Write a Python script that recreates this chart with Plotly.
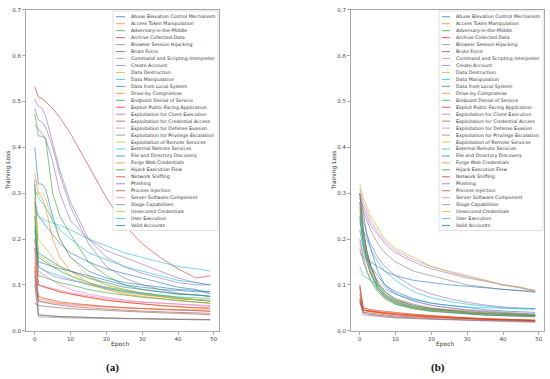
import plotly.graph_objects as go

# ---------------- data ----------------
techniques = [
    "Abuse Elevation Control Mechanism", "Access Token Manipulation", "Adversary-in-the-Middle",
    "Archive Collected Data", "Browser Session Hijacking", "Brute Force",
    "Command and Scripting Interpreter", "Create Account", "Data Destruction", "Data Manipulation",
    "Data from Local System", "Drive-by Compromise", "Endpoint Denial of Service",
    "Exploit Public-Facing Application", "Exploitation for Client Execution",
    "Exploitation for Credential Access", "Exploitation for Defense Evasion",
    "Exploitation for Privilege Escalation", "Exploitation of Remote Services",
    "External Remote Services", "File and Directory Discovery", "Forge Web Credentials",
    "Hijack Execution Flow", "Network Sniffing", "Phishing", "Process Injection",
    "Server Software Component", "Stage Capabilities", "Unsecured Credentials",
    "User Execution", "Valid Accounts",
]

epochs = [0, 1, 2, 3, 5, 7, 10, 15, 20, 25, 30, 35, 40, 45, 49]

loss_a = [
    [0.40, 0.32, 0.32, 0.31, 0.25, 0.20, 0.16, 0.13, 0.115, 0.105, 0.10, 0.095, 0.09, 0.088, 0.085],
    [0.345, 0.30, 0.29, 0.27, 0.20, 0.16, 0.13, 0.105, 0.09, 0.08, 0.075, 0.07, 0.065, 0.062, 0.06],
    [0.473, 0.425, 0.424, 0.42, 0.30, 0.25, 0.21, 0.15, 0.12, 0.10, 0.09, 0.085, 0.08, 0.078, 0.075],
    [0.532, 0.51, 0.507, 0.50, 0.485, 0.465, 0.43, 0.36, 0.29, 0.23, 0.19, 0.16, 0.135, 0.115, 0.12],
    [0.505, 0.49, 0.485, 0.47, 0.41, 0.35, 0.28, 0.20, 0.16, 0.14, 0.125, 0.115, 0.105, 0.10, 0.10],
    [0.06, 0.055, 0.054, 0.053, 0.052, 0.05, 0.048, 0.046, 0.044, 0.042, 0.04, 0.039, 0.038, 0.036, 0.035],
    [0.11, 0.065, 0.063, 0.062, 0.06, 0.058, 0.056, 0.054, 0.052, 0.05, 0.048, 0.046, 0.045, 0.044, 0.043],
    [0.485, 0.46, 0.455, 0.445, 0.40, 0.34, 0.27, 0.19, 0.14, 0.115, 0.10, 0.09, 0.082, 0.078, 0.075],
    [0.30, 0.30, 0.30, 0.29, 0.24, 0.20, 0.16, 0.12, 0.10, 0.09, 0.08, 0.075, 0.07, 0.068, 0.065],
    [0.26, 0.25, 0.245, 0.24, 0.235, 0.23, 0.22, 0.20, 0.185, 0.17, 0.16, 0.15, 0.14, 0.135, 0.13],
    [0.18, 0.17, 0.165, 0.16, 0.15, 0.14, 0.13, 0.115, 0.105, 0.095, 0.09, 0.085, 0.08, 0.078, 0.075],
    [0.20, 0.10, 0.098, 0.095, 0.09, 0.085, 0.08, 0.072, 0.066, 0.062, 0.058, 0.055, 0.052, 0.05, 0.048],
    [0.32, 0.16, 0.155, 0.15, 0.14, 0.13, 0.12, 0.105, 0.095, 0.088, 0.082, 0.077, 0.072, 0.068, 0.065],
    [0.14, 0.075, 0.072, 0.07, 0.066, 0.063, 0.06, 0.056, 0.053, 0.05, 0.048, 0.046, 0.045, 0.044, 0.042],
    [0.20, 0.14, 0.135, 0.13, 0.12, 0.115, 0.11, 0.10, 0.092, 0.085, 0.08, 0.075, 0.07, 0.067, 0.065],
    [0.10, 0.035, 0.034, 0.033, 0.032, 0.031, 0.03, 0.029, 0.028, 0.027, 0.026, 0.026, 0.025, 0.025, 0.024],
    [0.27, 0.13, 0.125, 0.12, 0.11, 0.10, 0.09, 0.08, 0.073, 0.067, 0.063, 0.06, 0.057, 0.055, 0.053],
    [0.33, 0.03, 0.03, 0.03, 0.029, 0.029, 0.028, 0.027, 0.027, 0.026, 0.026, 0.025, 0.025, 0.024, 0.024],
    [0.28, 0.165, 0.16, 0.155, 0.145, 0.14, 0.13, 0.115, 0.10, 0.09, 0.083, 0.077, 0.072, 0.068, 0.065],
    [0.23, 0.14, 0.135, 0.13, 0.125, 0.12, 0.112, 0.10, 0.092, 0.086, 0.082, 0.078, 0.074, 0.072, 0.07],
    [0.22, 0.15, 0.148, 0.145, 0.14, 0.135, 0.13, 0.12, 0.11, 0.10, 0.095, 0.09, 0.088, 0.085, 0.085],
    [0.15, 0.07, 0.068, 0.066, 0.063, 0.06, 0.058, 0.055, 0.052, 0.05, 0.048, 0.047, 0.046, 0.045, 0.045],
    [0.25, 0.12, 0.118, 0.115, 0.11, 0.105, 0.10, 0.09, 0.083, 0.078, 0.073, 0.07, 0.066, 0.063, 0.06],
    [0.18, 0.10, 0.097, 0.094, 0.09, 0.085, 0.08, 0.073, 0.067, 0.062, 0.058, 0.055, 0.053, 0.05, 0.05],
    [0.45, 0.44, 0.43, 0.42, 0.37, 0.30, 0.24, 0.20, 0.175, 0.16, 0.145, 0.13, 0.115, 0.105, 0.10],
    [0.13, 0.065, 0.063, 0.061, 0.058, 0.056, 0.053, 0.05, 0.047, 0.045, 0.043, 0.041, 0.04, 0.039, 0.038],
    [0.16, 0.10, 0.098, 0.096, 0.092, 0.088, 0.083, 0.076, 0.07, 0.065, 0.062, 0.06, 0.058, 0.056, 0.055],
    [0.12, 0.035, 0.034, 0.033, 0.032, 0.031, 0.03, 0.029, 0.028, 0.027, 0.026, 0.026, 0.025, 0.024, 0.024],
    [0.29, 0.20, 0.19, 0.18, 0.16, 0.14, 0.12, 0.10, 0.09, 0.083, 0.078, 0.074, 0.07, 0.068, 0.066],
    [0.31, 0.29, 0.28, 0.27, 0.24, 0.22, 0.20, 0.17, 0.155, 0.14, 0.13, 0.12, 0.11, 0.105, 0.10],
    [0.28, 0.25, 0.24, 0.23, 0.21, 0.19, 0.17, 0.15, 0.135, 0.125, 0.115, 0.105, 0.095, 0.09, 0.08],
]

loss_b = [
    [0.30, 0.25, 0.21, 0.18, 0.13, 0.10, 0.08, 0.065, 0.055, 0.05, 0.045, 0.042, 0.04, 0.038, 0.036],
    [0.065, 0.045, 0.043, 0.042, 0.04, 0.038, 0.036, 0.033, 0.031, 0.029, 0.027, 0.026, 0.025, 0.024, 0.023],
    [0.27, 0.20, 0.16, 0.13, 0.095, 0.075, 0.06, 0.05, 0.045, 0.042, 0.04, 0.038, 0.036, 0.035, 0.034],
    [0.06, 0.045, 0.044, 0.043, 0.041, 0.039, 0.037, 0.034, 0.031, 0.029, 0.027, 0.025, 0.023, 0.021, 0.02],
    [0.30, 0.27, 0.25, 0.23, 0.21, 0.19, 0.17, 0.15, 0.135, 0.125, 0.115, 0.108, 0.10, 0.095, 0.085],
    [0.08, 0.04, 0.039, 0.038, 0.036, 0.034, 0.032, 0.03, 0.028, 0.027, 0.026, 0.025, 0.024, 0.023, 0.022],
    [0.07, 0.04, 0.038, 0.036, 0.034, 0.032, 0.03, 0.028, 0.026, 0.024, 0.022, 0.021, 0.02, 0.019, 0.018],
    [0.29, 0.26, 0.24, 0.22, 0.19, 0.17, 0.15, 0.13, 0.12, 0.11, 0.10, 0.095, 0.09, 0.088, 0.086],
    [0.30, 0.22, 0.17, 0.14, 0.10, 0.08, 0.065, 0.052, 0.046, 0.042, 0.039, 0.037, 0.035, 0.034, 0.033],
    [0.20, 0.16, 0.13, 0.11, 0.085, 0.07, 0.058, 0.048, 0.043, 0.04, 0.037, 0.035, 0.034, 0.033, 0.032],
    [0.17, 0.16, 0.155, 0.15, 0.14, 0.13, 0.12, 0.11, 0.105, 0.10, 0.097, 0.094, 0.09, 0.087, 0.084],
    [0.09, 0.05, 0.047, 0.045, 0.042, 0.04, 0.038, 0.035, 0.032, 0.03, 0.028, 0.026, 0.025, 0.024, 0.023],
    [0.28, 0.21, 0.17, 0.14, 0.10, 0.08, 0.066, 0.055, 0.048, 0.044, 0.041, 0.039, 0.037, 0.036, 0.035],
    [0.10, 0.05, 0.048, 0.046, 0.044, 0.042, 0.04, 0.036, 0.033, 0.03, 0.028, 0.026, 0.025, 0.024, 0.023],
    [0.18, 0.15, 0.13, 0.11, 0.09, 0.075, 0.062, 0.05, 0.044, 0.04, 0.037, 0.034, 0.032, 0.031, 0.03],
    [0.065, 0.035, 0.034, 0.033, 0.031, 0.03, 0.028, 0.026, 0.025, 0.024, 0.023, 0.022, 0.021, 0.02, 0.02],
    [0.31, 0.28, 0.26, 0.24, 0.215, 0.195, 0.175, 0.155, 0.14, 0.13, 0.12, 0.11, 0.10, 0.093, 0.088],
    [0.26, 0.21, 0.17, 0.14, 0.105, 0.085, 0.07, 0.058, 0.05, 0.046, 0.043, 0.04, 0.038, 0.036, 0.035],
    [0.32, 0.29, 0.27, 0.25, 0.225, 0.20, 0.18, 0.16, 0.14, 0.128, 0.118, 0.11, 0.10, 0.094, 0.088],
    [0.25, 0.22, 0.20, 0.18, 0.15, 0.13, 0.11, 0.085, 0.072, 0.064, 0.058, 0.054, 0.05, 0.048, 0.047],
    [0.22, 0.18, 0.15, 0.125, 0.095, 0.077, 0.063, 0.052, 0.046, 0.042, 0.039, 0.037, 0.035, 0.034, 0.033],
    [0.10, 0.045, 0.043, 0.041, 0.039, 0.037, 0.035, 0.032, 0.03, 0.028, 0.026, 0.025, 0.024, 0.023, 0.022],
    [0.25, 0.19, 0.15, 0.125, 0.09, 0.072, 0.058, 0.048, 0.042, 0.039, 0.036, 0.034, 0.033, 0.032, 0.031],
    [0.07, 0.045, 0.043, 0.042, 0.04, 0.038, 0.035, 0.032, 0.03, 0.028, 0.026, 0.025, 0.024, 0.023, 0.022],
    [0.28, 0.24, 0.21, 0.19, 0.16, 0.14, 0.12, 0.095, 0.08, 0.07, 0.062, 0.056, 0.052, 0.05, 0.048],
    [0.30, 0.22, 0.175, 0.145, 0.105, 0.085, 0.068, 0.055, 0.048, 0.044, 0.041, 0.038, 0.036, 0.035, 0.034],
    [0.20, 0.17, 0.15, 0.13, 0.11, 0.095, 0.08, 0.065, 0.056, 0.05, 0.046, 0.043, 0.04, 0.038, 0.037],
    [0.095, 0.04, 0.038, 0.036, 0.034, 0.032, 0.03, 0.028, 0.026, 0.025, 0.024, 0.023, 0.022, 0.021, 0.02],
    [0.19, 0.16, 0.13, 0.11, 0.085, 0.07, 0.06, 0.05, 0.045, 0.042, 0.04, 0.038, 0.037, 0.036, 0.035],
    [0.14, 0.12, 0.115, 0.11, 0.10, 0.09, 0.08, 0.068, 0.06, 0.055, 0.052, 0.05, 0.049, 0.048, 0.048],
    [0.24, 0.19, 0.16, 0.14, 0.12, 0.10, 0.085, 0.07, 0.06, 0.055, 0.05, 0.046, 0.043, 0.041, 0.04],
]

panel_labels = ["(a)", "(b)"]
x_title = "Epoch"
y_title = "Training Loss"

# ---------------- style ----------------
W, H = 550, 379
tab10 = ["#1f77b4", "#ff7f0e", "#2ca02c", "#d62728", "#9467bd",
         "#8c564b", "#e377c2", "#7f7f7f", "#bcbd22", "#17becf"]


def rgba(hexc, a):
    h = hexc.lstrip("#")
    return "rgba(%d,%d,%d,%.2f)" % (int(h[0:2], 16), int(h[2:4], 16), int(h[4:6], 16), a)


def px(x):
    return x / W


def py(y):
    return 1 - y / H


LINE_ALPHA = 0.65
panels = [
    dict(data=loss_a, xa="x", ya="y", dom=(26, 219), leg_box=(113, 218), leg_line=(116, 125), leg_text=129,
         ylab_x=8, xlab_x=120, lab_x=112),
    dict(data=loss_b, xa="x2", ya="y2", dom=(351, 544), leg_box=(439, 543), leg_line=(442, 450), leg_text=454,
         ylab_x=334, xlab_x=445, lab_x=438),
]
AX_TOP, AX_BOT = 7, 333

fig = go.Figure()
shapes = []
annotations = []

for p, lab in zip(panels, panel_labels):
    for i, (name, vals) in enumerate(zip(techniques, p["data"])):
        fig.add_trace(go.Scatter(
            x=epochs, y=vals, mode="lines", name=name, showlegend=False,
            line=dict(color=rgba(tab10[i % 10], LINE_ALPHA), width=0.9),
            xaxis=p["xa"], yaxis=p["ya"],
        ))
    # legend frame
    n = len(techniques)
    top, step = 14, 7.07
    shapes.append(dict(type="rect", xref="paper", yref="paper", layer="above",
                       x0=px(p["leg_box"][0]), x1=px(p["leg_box"][1]),
                       y0=py(top - 6), y1=py(top + (n - 1) * step + 5),
                       line=dict(color="#d9d9d9", width=0.8), fillcolor="rgba(255,255,255,0.85)"))
    for i, name in enumerate(techniques):
        yy = top + i * step
        shapes.append(dict(type="line", xref="paper", yref="paper", layer="above",
                           x0=px(p["leg_line"][0]), x1=px(p["leg_line"][1]), y0=py(yy), y1=py(yy),
                           line=dict(color=rgba(tab10[i % 10], LINE_ALPHA + 0.1), width=1)))
        annotations.append(dict(text=name, xref="paper", yref="paper", x=px(p["leg_text"]), y=py(yy),
                                xanchor="left", yanchor="middle", showarrow=False,
                                font=dict(family="DejaVu Sans", size=4.7, color="#333")))
    annotations.append(dict(text=y_title, xref="paper", yref="paper", x=px(p["ylab_x"]),
                            y=py((AX_TOP + AX_BOT) / 2), textangle=-90, xanchor="center", yanchor="middle",
                            showarrow=False, font=dict(family="DejaVu Sans", size=6, color="#333")))
    annotations.append(dict(text=x_title, xref="paper", yref="paper", x=px(p["xlab_x"]), y=py(346),
                            xanchor="center", yanchor="middle", showarrow=False,
                            font=dict(family="DejaVu Sans", size=6, color="#333")))
    annotations.append(dict(text="<b>%s</b>" % lab, xref="paper", yref="paper", x=px(p["lab_x"]), y=py(370),
                            xanchor="center", yanchor="middle", showarrow=False,
                            font=dict(family="Liberation Serif", size=11, color="#111")))

axis_common = dict(showgrid=False, zeroline=False, showline=True, mirror=True, linecolor="#a8a8a8",
                   linewidth=1, ticks="outside", ticklen=3, tickcolor="#a8a8a8",
                   tickfont=dict(family="DejaVu Sans", size=5.5, color="#444"))

fig.update_layout(
    width=W, height=H, margin=dict(l=0, r=0, t=0, b=0),
    paper_bgcolor="white", plot_bgcolor="white", showlegend=False,
    xaxis=dict(domain=[px(26), px(219)], range=[-2.45, 51.45], dtick=10, anchor="y", **axis_common),
    yaxis=dict(domain=[py(AX_BOT), py(AX_TOP)], range=[0, 0.7], dtick=0.1, tickformat=".1f", anchor="x",
               **axis_common),
    xaxis2=dict(domain=[px(351), px(544)], range=[-2.45, 51.45], dtick=10, anchor="y2", **axis_common),
    yaxis2=dict(domain=[py(AX_BOT), py(AX_TOP)], range=[0, 0.7], dtick=0.1, tickformat=".1f", anchor="x2",
                **axis_common),
    shapes=shapes, annotations=annotations,
)

fig.write_html("out.html", config={"displayModeBar": False},
               post_script="document.body.style.margin='0';document.body.style.overflow='hidden';")
